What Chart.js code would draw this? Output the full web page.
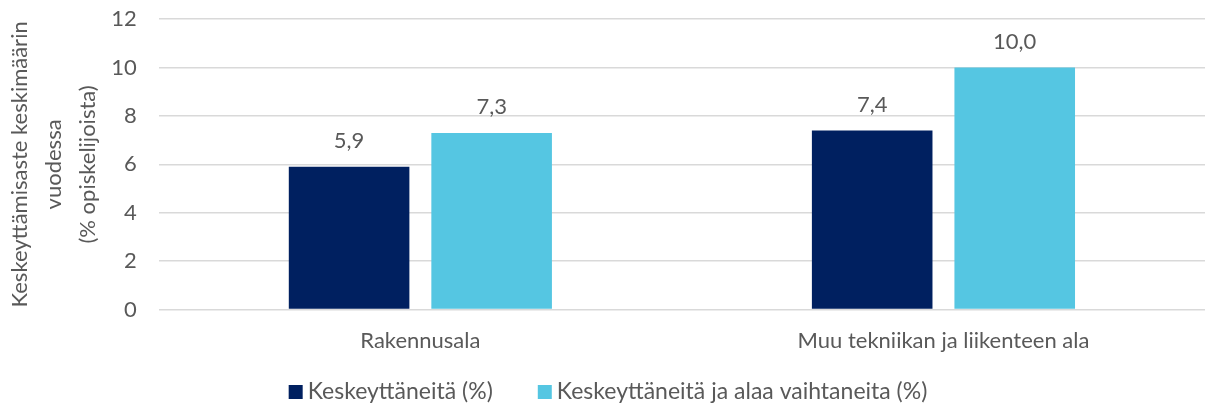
<!DOCTYPE html>
<html>
<head>
<meta charset="utf-8">
<script src="https://cdn.jsdelivr.net/npm/chart.js@4"></script>
<style>
  html, body { margin: 0; padding: 0; background: #fff; }
  #wrap { width: 1208px; height: 409px; }
</style>
</head>
<body>
<div id="wrap"><canvas id="chart1"></canvas></div>
<script>
"use strict";

const categories = ["Rakennusala", "Muu tekniikan ja liikenteen ala"];
const seriesNames = ["Keskeyttäneitä (%)", "Keskeyttäneitä ja alaa vaihtaneita (%)"];
const keskeyttaneet = [5.9, 7.4];
const vaihtaneet = [7.3, 10.0];
const yTicks = [0, 2, 4, 6, 8, 10, 12];
const yTitle = ["Keskeyttämisaste keskimäärin", "vuodessa", "(% opiskelijoista)"];

const FONT = "Lato, 'Open Sans', sans-serif";
const GREY = "#595959";
const colors = ["#002060", "#55C6E2"];

// numbers above the bars, Finnish decimal comma
const valueLabels = {
    id: "valueLabels",
    afterDatasetsDraw(chart) {
        const c = chart.ctx;
        c.save();
        c.font = "22px " + FONT;
        c.fillStyle = GREY;
        c.textAlign = "center";
        c.textBaseline = "alphabetic";
        chart.data.datasets.forEach((ds, i) => {
            chart.getDatasetMeta(i).data.forEach((bar, j) => {
                c.fillText(ds.data[j].toFixed(1).replace(".", ","), bar.x, bar.y - 19);
            });
        });
        c.restore();
    }
};

// excel-like legend: small square, short gap, wide spacing between items
const bottomLegend = {
    id: "bottomLegend",
    afterDraw(chart) {
        const c = chart.ctx;
        const box = 14, gap = 5, spacing = 45;
        c.save();
        c.font = "23px " + FONT;
        c.textBaseline = "middle";
        c.textAlign = "left";
        const items = chart.data.datasets.map(ds => ({
            text: ds.label, color: ds.backgroundColor, w: c.measureText(ds.label).width
        }));
        const total = items.reduce((s, it) => s + box + gap + it.w, 0) + spacing * (items.length - 1);
        let x = (chart.width - total) / 2 + 4;
        const y = chart.height - 17;
        items.forEach(it => {
            c.fillStyle = it.color;
            c.fillRect(x, y - box / 2, box, box);
            c.fillStyle = GREY;
            c.fillText(it.text, x + box + gap, y);
            x += box + gap + it.w + spacing;
        });
        c.restore();
    }
};

const ctx = document.getElementById("chart1");

let chart1 = new Chart(ctx, {
    type: "bar",
    data: {
        labels: categories,
        datasets: [
            {
                label: seriesNames[0],
                data: keskeyttaneet,
                backgroundColor: colors[0],
            },
            {
                label: seriesNames[1],
                data: vaihtaneet,
                backgroundColor: colors[1],
            },
        ],
    },
    options: {
        responsive: true,
        maintainAspectRatio: false,
        animation: false,
        categoryPercentage: 0.545,
        barPercentage: 0.846,
        layout: { padding: { left: 3, right: 3, top: 0, bottom: 37 } },
        plugins: {
            legend: { display: false },
            tooltip: { enabled: false },
        },
        scales: {
            x: {
                grid: { display: false, drawTicks: false },
                border: { display: false },
                ticks: { color: GREY, font: { family: FONT, size: 22 }, padding: 18 },
            },
            y: {
                min: 0,
                max: 12,
                afterBuildTicks: axis => { axis.ticks = yTicks.map(v => ({ value: v })); },
                grid: { color: "#D9D9D9", lineWidth: 1.5, drawTicks: true, tickLength: 16, tickColor: "rgba(0,0,0,0)" },
                border: { display: false },
                ticks: { color: GREY, font: { family: FONT, size: 22 }, padding: 6 },
                title: {
                    display: true,
                    text: yTitle,
                    color: GREY,
                    font: { family: FONT, size: 22, lineHeight: 1.55 },
                    padding: { top: 0, bottom: 0 },
                },
            },
        },
    },
    plugins: [valueLabels, bottomLegend],
});
</script>
</body>
</html>
